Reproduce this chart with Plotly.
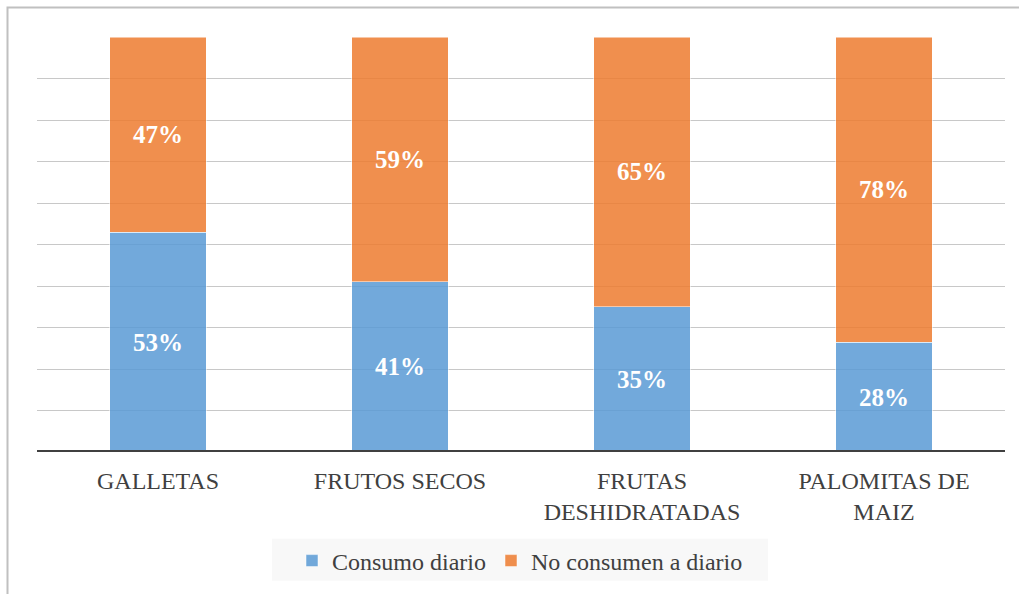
import plotly.graph_objects as go

categories = ["GALLETAS", "FRUTOS SECOS", "FRUTAS<br>DESHIDRATADAS", "PALOMITAS DE<br>MAIZ"]
consumo_diario = [53, 41, 35, 28]
no_consumen = [47, 59, 65, 78]
series_names = ["Consumo diario", "No consumen a diario"]

W, H = 1019, 594
L, R, T, B = 37, 14, 37, 141

serif = "Liberation Serif"

fig = go.Figure()
for name, vals, color in [
    (series_names[0], consumo_diario, "rgba(91,155,213,0.86)"),
    (series_names[1], no_consumen, "rgba(237,125,49,0.86)"),
]:
    fig.add_trace(go.Bar(
        x=categories,
        y=vals,
        name=name,
        marker=dict(color=color, line=dict(color="rgba(255,255,255,0.5)", width=1)),
        text=[f"{v}%" for v in vals],
        textposition="inside",
        insidetextanchor="middle",
        textangle=0,
        textfont=dict(family=serif, size=25, color="white", weight="bold"),
        width=0.4,
    ))

pw = W - L - R
ph = H - T - B

def px_x(p):
    return (p - L) / pw

def px_y(p):
    return (H - B - p) / ph

fig.update_layout(
    width=W, height=H,
    margin=dict(l=L, r=R, t=T, b=B),
    barmode="stack",
    barnorm="fraction",
    plot_bgcolor="white",
    paper_bgcolor="white",
    showlegend=True,
    legend=dict(
        orientation="h",
        x=px_x(520), xanchor="center",
        y=px_y(561), yanchor="middle",
        bgcolor="rgba(0,0,0,0)",
        font=dict(family=serif, size=24, color="#404040"),
        traceorder="normal",
        itemwidth=30,
        borderwidth=0,
    ),
    xaxis=dict(
        showgrid=False,
        tickfont=dict(family=serif, size=24, color="#404040"),
        ticks="",
        ticklabelstandoff=12,
        showline=False,
        zeroline=False,
    ),
    yaxis=dict(
        range=[0, 1],
        dtick=0.1,
        showticklabels=False,
        showgrid=True,
        gridcolor="#c8c8c8",
        gridwidth=1,
        zeroline=False,
        showline=False,
        fixedrange=True,
    ),
    shapes=[
        # baseline
        dict(type="line", xref="paper", yref="y", x0=0, x1=1, y0=0, y1=0,
             line=dict(color="#404040", width=4)),
        # chart frame
        dict(type="rect", xref="paper", yref="paper",
             x0=px_x(7.5), x1=px_x(1030), y0=px_y(7.5), y1=px_y(610),
             line=dict(color="#c0c0c0", width=2), layer="below"),
        # legend panel
        dict(type="rect", xref="paper", yref="paper",
             x0=px_x(272), x1=px_x(768), y0=px_y(540), y1=px_y(582),
             fillcolor="#f8f8f8", line=dict(width=0), layer="below"),
    ],
)

fig.write_html("out.html")
